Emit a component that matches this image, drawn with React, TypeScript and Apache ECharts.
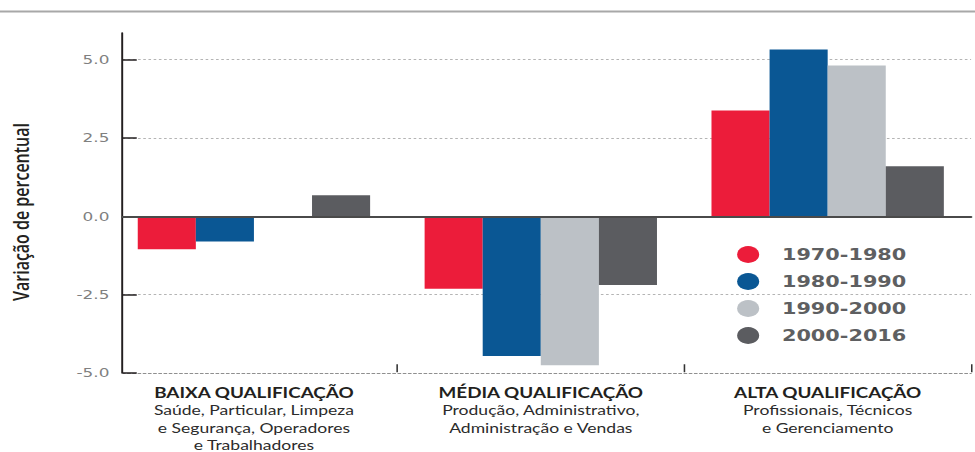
import React, { useEffect, useRef } from "react";
import * as echarts from "echarts";

// Qualification groups and their occupational sub-groups
const categories = ["BAIXA QUALIFICAÇÃO", "MÉDIA QUALIFICAÇÃO", "ALTA QUALIFICAÇÃO"];
const categoryDetails = [
  ["Saúde, Particular, Limpeza", "e Segurança, Operadores", "e Trabalhadores"],
  ["Produção, Administrativo,", "Administração e Vendas"],
  ["Profissionais, Técnicos", "e Gerenciamento"],
];

// Percentage change per decade
const periods = ["1970-1980", "1980-1990", "1990-2000", "2000-2016"];
const values1970 = [-1.07, -2.33, 3.37];
const values1980 = [-0.82, -4.48, 5.32];
const values1990 = [0, -4.78, 4.81];
const values2000 = [0.66, -2.21, 1.59];
const periodColors = ["#ec1c3a", "#0a5794", "#bcc1c6", "#5b5c60"];

const yTicks = [-5, -2.5, 0, 2.5, 5];
const yTitle = "Variação de percentual";

// The drawing is laid out on a narrower canvas and widened with a CSS transform
const STRETCH = 1.3;
const BASE_W = 975 / STRETCH;
const BASE_H = 452;

export default function App() {
  const ref = useRef<HTMLDivElement>(null);

  useEffect(() => {
    if (!ref.current) return;
    const chart = echarts.init(ref.current, undefined, { renderer: "svg" });
    const seriesValues = [values1970, values1980, values1990, values2000];

    chart.setOption({
      animation: false,
      backgroundColor: "#ffffff",
      graphic: [
        {
          type: "rect",
          shape: { x: 0, y: 10.5, width: BASE_W, height: 2 },
          style: { fill: "#a8a8a8" },
          silent: true,
        },
      ],
      legend: {
        orient: "vertical",
        left: 562,
        top: 241,
        itemWidth: 42,
        itemHeight: 17,
        itemGap: 10,
        icon: "circle",
        data: periods,
        selectedMode: false,
        textStyle: {
          fontFamily: "DejaVu Sans",
          fontSize: 16,
          fontWeight: "bold",
          color: "#5e5f61",
        },
      },
      grid: [
        { left: 85, right: 3, top: 33, bottom: 79 },
        { left: 94.2, right: 3, top: 33, bottom: 79 },
      ],
      xAxis: [
        {
          // category bands: boundary ticks and group labels
          type: "category",
          gridIndex: 0,
          position: "bottom",
          data: categories,
          axisLine: { show: false, onZero: false },
          axisTick: {
            show: true,
            inside: true,
            length: 8,
            interval: (index: number) => index !== 0,
            lineStyle: { color: "#333333", width: 1.2 },
          },
          axisLabel: {
            margin: 11,
            interval: 0,
            formatter: (value: string) => {
              const i = categories.indexOf(value);
              const lines = (categoryDetails[i] || []).map((s) => `{s|${s}}`);
              return [`{h|${value}}`, ...lines].join("\n");
            },
            rich: {
              h: {
                fontFamily: "Lato",
                fontWeight: "bold",
                fontSize: 14.5,
                color: "#231f20",
                lineHeight: 18,
                align: "center",
              },
              s: {
                fontFamily: "Lato",
                fontSize: 13.5,
                color: "#2b2b2b",
                lineHeight: 17.5,
                align: "center",
              },
            },
          },
        },
        {
          // zero baseline
          type: "category",
          gridIndex: 1,
          data: categories,
          z: 5,
          axisLine: { show: true, onZero: true, lineStyle: { color: "#4a4a4a", width: 2 } },
          axisTick: { show: false },
          axisLabel: { show: false },
        },
        {
          // dotted floor line
          type: "category",
          gridIndex: 1,
          position: "bottom",
          data: categories,
          axisLine: { show: true, onZero: false, lineStyle: { color: "#8f8f8f", width: 1, type: [2, 2] } },
          axisTick: { show: false },
          axisLabel: { show: false },
        },
      ],
      yAxis: [
        {
          type: "value",
          gridIndex: 0,
          min: -5,
          max: 5.85,
          interval: 2.5,
          show: false,
          splitLine: { show: false },
        },
        {
          type: "value",
          gridIndex: 1,
          min: -5,
          max: 5.85,
          interval: 2.5,
          name: yTitle,
          nameLocation: "middle",
          nameRotate: 90,
          nameGap: 70,
          nameTextStyle: {
            fontFamily: "Open Sans",
            fontWeight: 600,
            fontSize: 16,
            color: "#231f20",
            padding: [0, 18, 0, 0],
          },
          axisLine: { show: true, onZero: false, lineStyle: { color: "#231f20", width: 1.5 } },
          axisTick: {
            show: true,
            inside: true,
            length: 11,
            customValues: yTicks,
            lineStyle: { color: "#231f20", width: 1.5 },
          },
          axisLabel: {
            customValues: yTicks,
            margin: 10,
            fontFamily: "DejaVu Sans",
            fontSize: 13,
            color: "#808080",
            formatter: (v: number) => v.toFixed(1),
          },
          splitLine: {
            show: true,
            lineStyle: { type: [2, 2], width: 1, color: "#b4b4b4" },
          },
        },
      ],
      series: periods.map((name, i) => ({
        name,
        type: "bar",
        xAxisIndex: 0,
        yAxisIndex: 0,
        barGap: "0%",
        barCategoryGap: "19%",
        itemStyle: { color: periodColors[i] },
        data: seriesValues[i],
      })),
    });

    return () => chart.dispose();
  }, []);

  return (
    <div
      ref={ref}
      style={{
        position: "absolute",
        left: 0,
        top: 0,
        width: BASE_W,
        height: BASE_H,
        transform: `scaleX(${STRETCH})`,
        transformOrigin: "0 0",
        background: "#ffffff",
      }}
    />
  );
}
